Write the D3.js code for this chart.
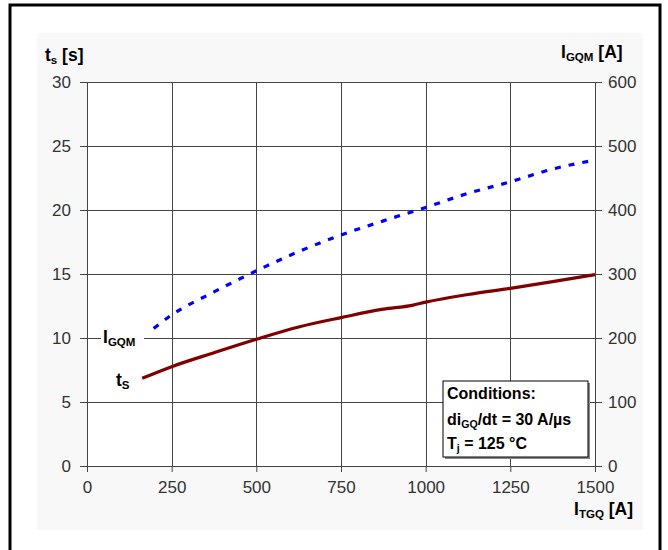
<!DOCTYPE html>
<html>
<head>
<meta charset="utf-8">
<script src="https://cdn.jsdelivr.net/npm/d3@7"></script>
<style>
  body { margin: 0; background: #fff; }
  text { font-family: "Liberation Sans", Arial, sans-serif; }
</style>
</head>
<body>
<svg id="chart" width="668" height="550"></svg>
<script>
// t_s curve (left axis)
const tsCurrent = [163, 250, 375, 500, 625, 750, 875, 960, 1000, 1125, 1250, 1375, 1500];
const tsValues = [6.85, 7.76, 8.85, 9.9, 10.86, 11.59, 12.25, 12.55, 12.8, 13.4, 13.88, 14.4, 14.95];

// I_GQM curve (right axis)
const igqmCurrent = [197, 250, 375, 500, 625, 750, 875, 1000, 1125, 1250, 1375, 1500];
const igqmValues = [215, 236, 272, 305, 335, 361, 383, 404, 426, 444, 464, 478];

const xTicks = [0, 250, 500, 750, 1000, 1250, 1500];
const yLeftTicks = [0, 5, 10, 15, 20, 25, 30];
const yRightTicks = [0, 100, 200, 300, 400, 500, 600];

const conditions = ["Conditions:", "diGQ/dt = 30 A/\u00b5s", "Tj = 125 \u00b0C"];

let plotLeft = 87, plotRight = 595, plotTop = 82, plotBottom = 466;

const svg = d3.select("#chart");

// outer frame + light panel
svg.append("rect").attr("x", 37).attr("y", 33).attr("width", 606).attr("height", 497).attr("fill", "#f8f8f8");
svg.append("path").attr("d", "M10,560 V5 H660 V560").attr("fill", "none").attr("stroke", "#000").attr("stroke-width", 3);

let x = d3.scaleLinear().domain([0, 1500]).range([plotLeft, plotRight]);
let yL = d3.scaleLinear().domain([0, 30]).range([plotBottom, plotTop]);
let yR = d3.scaleLinear().domain([0, 600]).range([plotBottom, plotTop]);

svg.append("rect").attr("x", plotLeft).attr("y", plotTop)
  .attr("width", plotRight - plotLeft).attr("height", plotBottom - plotTop).attr("fill", "#fff");

let gridColor = "#444";

// gridlines
svg.append("g").selectAll("line").data(xTicks).join("line")
  .attr("x1", d => Math.round(x(d)) + 0.5).attr("x2", d => Math.round(x(d)) + 0.5)
  .attr("y1", plotTop).attr("y2", plotBottom)
  .attr("stroke", gridColor).attr("stroke-width", 1);
svg.append("g").selectAll("line").data(yLeftTicks).join("line")
  .attr("x1", plotLeft).attr("x2", plotRight)
  .attr("y1", d => Math.round(yL(d)) + 0.5).attr("y2", d => Math.round(yL(d)) + 0.5)
  .attr("stroke", gridColor).attr("stroke-width", 1);

// axes
const styleAxis = g => {
  g.attr("font-size", null).attr("font-family", null);
  g.select(".domain").remove();
  g.selectAll(".tick line").attr("stroke", gridColor);
  g.selectAll(".tick text").attr("fill", "#333").style("font-size", "17px");
};

svg.append("g").attr("transform", `translate(${plotLeft},0)`)
  .call(d3.axisLeft(yL).tickValues(yLeftTicks).tickSize(7).tickPadding(9))
  .call(styleAxis);
svg.append("g").attr("transform", `translate(${plotRight},0)`)
  .call(d3.axisRight(yR).tickValues(yRightTicks).tickSize(7).tickPadding(6))
  .call(styleAxis);
svg.append("g").attr("transform", `translate(0,${plotBottom})`)
  .call(d3.axisBottom(x).tickValues(xTicks).tickFormat(d3.format("d")).tickSize(6).tickPadding(9))
  .call(styleAxis);

// curves
let lineTs = d3.line().x((d, i) => x(tsCurrent[i])).y(d => yL(d)).curve(d3.curveMonotoneX);
let lineIg = d3.line().x((d, i) => x(igqmCurrent[i])).y(d => yR(d)).curve(d3.curveMonotoneX);

svg.append("path").attr("d", lineIg(igqmValues))
  .attr("fill", "none").attr("stroke", "#0000ff").attr("stroke-width", 3.2)
  .attr("stroke-dasharray", "6,8");
svg.append("path").attr("d", lineTs(tsValues))
  .attr("fill", "none").attr("stroke", "#800000").attr("stroke-width", 3.2);

// text helper with subscript
const label = (px, py, main, sub, rest, size, anchor) => {
  let t = svg.append("text").attr("x", px).attr("y", py)
    .attr("font-weight", "bold").style("font-size", size + "px").attr("fill", "#000")
    .attr("text-anchor", anchor || "start");
  t.append("tspan").text(main);
  if (sub) t.append("tspan").text(sub).attr("dy", 3).style("font-size", (size * 0.66) + "px");
  if (rest) t.append("tspan").text(rest).attr("dy", sub ? -3 : 0);
  return t;
};

label(45, 61, "t", "s", " [s]", 17.5);
label(561, 58, "I", "GQM", " [A]", 17.5);
label(574, 515, "I", "TGQ", " [A]", 17.5);

// curve labels with backing
svg.append("rect").attr("x", 101).attr("y", 328).attr("width", 43).attr("height", 19).attr("fill", "#fff");
label(103, 343, "I", "GQM", null, 17.5);
label(116, 386, "t", "S", null, 17.5);

// conditions box
svg.append("rect").attr("x", 445).attr("y", 383).attr("width", 145).attr("height", 76).attr("fill", "#888");
svg.append("rect").attr("x", 443).attr("y", 381).attr("width", 145).attr("height", 76)
  .attr("fill", "#fff").attr("stroke", "#000").attr("stroke-width", 1);
label(447, 399, conditions[0], null, null, 16);
label(447, 425, "di", "GQ", "/dt = 30 A/\u00b5s", 16);
label(447, 449, "T", "j", " = 125 \u00b0C", 16);
</script>
</body>
</html>
